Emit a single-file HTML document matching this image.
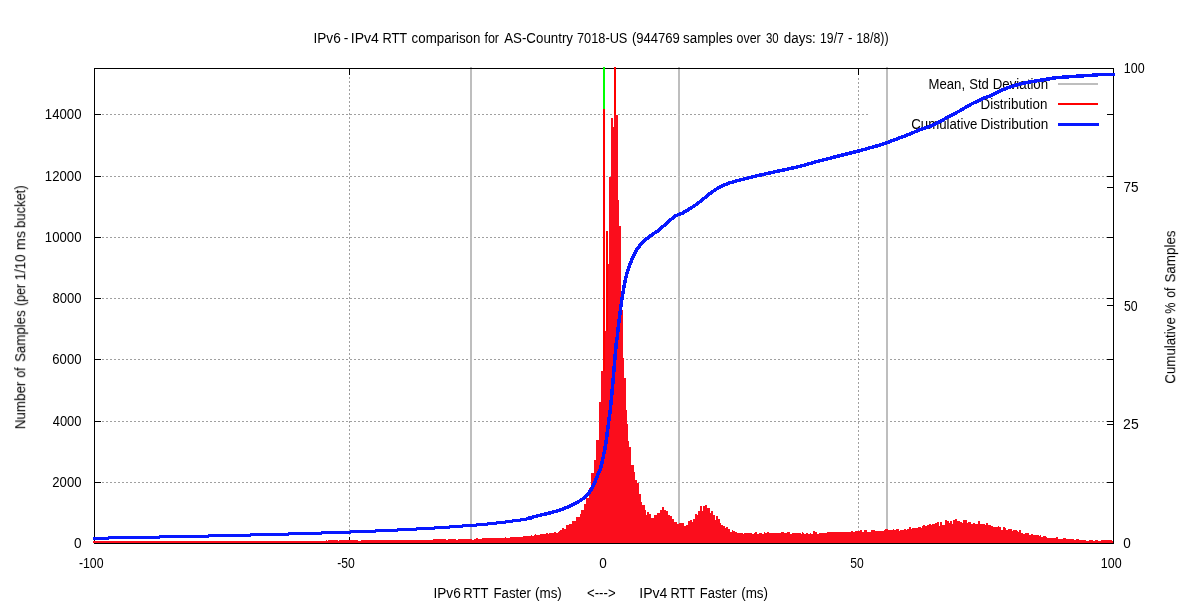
<!DOCTYPE html>
<html lang="en"><head><meta charset="utf-8"><title>IPv6 - IPv4 RTT comparison</title>
<style>html,body{margin:0;padding:0;background:#fff;overflow:hidden}svg{display:block}text{font-family:"Liberation Sans",sans-serif;font-size:15.2px;fill:#000}</style></head>
<body>
<svg width="1191" height="611" viewBox="0 0 1191 611">
<rect x="0" y="0" width="1191" height="611" fill="#fff"/>
<defs><filter id="gs" filterUnits="userSpaceOnUse" x="0" y="0" width="1191" height="611" color-interpolation-filters="sRGB"><feOffset dx="0" dy="0"/></filter></defs>
<g shape-rendering="crispEdges" stroke="#a0a0a0" stroke-width="1" stroke-dasharray="2 2" fill="none">
<line x1="102" y1="482.5" x2="1108" y2="482.5"/>
<line x1="102" y1="421.5" x2="1108" y2="421.5"/>
<line x1="102" y1="359.5" x2="1108" y2="359.5"/>
<line x1="102" y1="298.5" x2="1108" y2="298.5"/>
<line x1="102" y1="237.5" x2="1108" y2="237.5"/>
<line x1="102" y1="176.5" x2="1108" y2="176.5"/>
<line x1="102" y1="114.5" x2="868" y2="114.5"/>
<line x1="349.5" y1="77" x2="349.5" y2="537"/>
<line x1="603.5" y1="77" x2="603.5" y2="537"/>
<line x1="858.5" y1="78" x2="858.5" y2="537"/>
</g>
<g shape-rendering="crispEdges" fill="#bebebe"><rect x="470" y="67" width="2" height="476"/><rect x="678" y="67" width="2" height="476"/><rect x="886" y="67" width="2" height="476"/></g>

<g shape-rendering="crispEdges" stroke="#000" stroke-width="1" fill="none">
<rect x="94.5" y="68.5" width="1019" height="475"/>
<line x1="94" y1="482.5" x2="101" y2="482.5"/><line x1="1107" y1="482.5" x2="1114" y2="482.5"/>
<line x1="94" y1="421.5" x2="101" y2="421.5"/><line x1="1107" y1="421.5" x2="1114" y2="421.5"/>
<line x1="94" y1="359.5" x2="101" y2="359.5"/><line x1="1107" y1="359.5" x2="1114" y2="359.5"/>
<line x1="94" y1="298.5" x2="101" y2="298.5"/><line x1="1107" y1="298.5" x2="1114" y2="298.5"/>
<line x1="94" y1="237.5" x2="101" y2="237.5"/><line x1="1107" y1="237.5" x2="1114" y2="237.5"/>
<line x1="94" y1="176.5" x2="101" y2="176.5"/><line x1="1107" y1="176.5" x2="1114" y2="176.5"/>
<line x1="94" y1="114.5" x2="101" y2="114.5"/><line x1="1107" y1="114.5" x2="1114" y2="114.5"/>
<line x1="1107" y1="424.5" x2="1114" y2="424.5"/>
<line x1="1107" y1="305.5" x2="1114" y2="305.5"/>
<line x1="1107" y1="187.5" x2="1114" y2="187.5"/>
<line x1="349.5" y1="68" x2="349.5" y2="75"/><line x1="349.5" y1="537" x2="349.5" y2="544"/>
<line x1="603.5" y1="68" x2="603.5" y2="75"/><line x1="603.5" y1="537" x2="603.5" y2="544"/>
<line x1="858.5" y1="68" x2="858.5" y2="75"/><line x1="858.5" y1="537" x2="858.5" y2="544"/>
</g>
<path shape-rendering="crispEdges" fill="#fb0d1c" stroke="none" d="M93,543V541H326V540H327V541H328V540H338V541H339V540H358V541H361V540H433V539H446V540H448V539H456V540H458V539H472V540H474V539H476V538H478V539H482V538H505V537H506V538H510V537H523V536H531V535H532V536H534V535H535V534H536V535H540V534H546V533H548V534H549V533H554V532H556V533H558V532H559V531H560V530H562V528H564V529H566V525H569V524H572V521H576V517H580V514H581V510H584V504H586V498H589V488H591V473H594V460H596V440H599V402H601V371H603V67H605V331H606V231H608V264H609V177H611V118H613V127H614V67H616V115H618V200H619V226H621V310H623V358H624V378H626V410H627V424H628V441H629V447H631V465H634V472H635V480H637V483H639V494H641V502H642V505H645V510H646V515H647V512H649V514H651V518H654V515H657V513H660V510H662V507H664V510H666V511H668V515H670V516H672V519H674V522H677V524H679V523H684V526H686V525H688V521H690V520H692V522H693V519H695V514H697V515H698V511H700V506H702V511H703V506H705V505H707V508H710V513H711V511H713V515H715V520H716V516H718V519H720V523H721V525H723V526H725V528H726V527H728V529H730V532H732V530H733V531H735V532H737V533H743V534H744V533H752V534H754V533H755V532H757V534H759V533H762V534H764V532H765V533H767V532H769V533H781V532H784V533H787V532H790V534H792V533H801V534H802V532H803V533H804V534H806V533H808V534H810V533H811V534H813V531H815V532H817V534H819V533H827V532H851V531H853V532H855V531H860V530H862V532H864V530H867V532H871V530H875V531H884V530H885V529H888V530H893V529H894V530H896V529H899V531H900V530H904V529H906V530H907V529H909V527H911V529H912V528H918V527H921V528H922V526H923V525H925V526H927V525H929V524H931V525H932V524H935V523H937V522H939V526H940V522H942V525H945V520H947V521H949V523H950V521H952V524H953V520H955V519H957V521H960V522H962V523H963V520H967V523H968V522H971V524H973V523H975V524H978V521H980V524H985V525H986V523H988V525H991V526H993V527H998V526H999V527H1001V530H1003V527H1005V528H1006V530H1008V529H1012V531H1013V530H1017V531H1018V532H1019V530H1021V533H1023V534H1025V533H1029V535H1031V534H1033V535H1039V536H1040V535H1041V537H1043V536H1046V537H1047V538H1056V537H1058V539H1063V538H1066V539H1074V540H1076V539H1079V540H1086V541H1089V540H1093V541H1095V540H1098V541H1101V540H1112V541H1113V543Z"/>
<rect shape-rendering="crispEdges" x="603" y="67" width="2" height="42" fill="#00ff00"/>
<g shape-rendering="crispEdges" fill="#ff0000"><rect x="614" y="67" width="2" height="48"/><rect x="603" y="109" width="2" height="262"/><rect x="606" y="231" width="2" height="100"/></g>

<g filter="url(#gs)">
<text y="89"><tspan x="928.55" textLength="36.53" lengthAdjust="spacingAndGlyphs">Mean,</tspan> <tspan x="969.31" textLength="19.58" lengthAdjust="spacingAndGlyphs">Std</tspan> <tspan x="992.74" textLength="55.41" lengthAdjust="spacingAndGlyphs">Deviation</tspan></text>
<text y="109"><tspan x="980.53" textLength="66.87" lengthAdjust="spacingAndGlyphs">Distribution</tspan></text>
<text y="129"><tspan x="911.24" textLength="66.12" lengthAdjust="spacingAndGlyphs">Cumulative</tspan> <tspan x="980.52" textLength="67.69" lengthAdjust="spacingAndGlyphs">Distribution</tspan></text>
</g>
<g shape-rendering="crispEdges" fill="#0818ff"><rect x="93" y="537" width="16" height="3"/><rect x="108" y="536" width="52" height="3"/><rect x="159" y="535" width="50" height="3"/><rect x="208" y="534" width="43" height="3"/><rect x="250" y="533" width="39" height="3"/><rect x="288" y="532" width="34" height="3"/><rect x="321" y="531" width="30" height="3"/><rect x="350" y="530" width="26" height="3"/><rect x="375" y="529" width="23" height="3"/><rect x="397" y="528" width="20" height="3"/><rect x="416" y="527" width="19" height="3"/><rect x="434" y="526" width="16" height="3"/><rect x="449" y="525" width="14" height="3"/><rect x="462" y="524" width="15" height="3"/><rect x="476" y="523" width="12" height="3"/><rect x="487" y="522" width="10" height="3"/><rect x="496" y="521" width="10" height="3"/><rect x="505" y="520" width="8" height="3"/><rect x="512" y="519" width="9" height="3"/><rect x="520" y="518" width="7" height="3"/><rect x="526" y="517" width="6" height="3"/></g>
<polyline shape-rendering="crispEdges" fill="none" stroke="#0818ff" stroke-width="3.5" stroke-linejoin="round" points="528.0,518.3 529.8,517.8 539.6,515.4 549.5,513.0 559.3,510.3 569.1,506.6 578.9,501.4 583.9,498.0 588.8,493.1 592.7,487.0 595.6,480.3 598.6,473.0 600.5,468.9 602.8,459.1 604.8,449.3 606.4,439.5 607.65,429.6 608.9,419.8 610.3,410.0 611.5,397.3 612.6,385.8 613.6,374.4 614.5,362.9 615.5,351.5 616.5,340.0 617.1,338.7 618.26,327.32 619.67,315.93 621.12,304.65 622.79,293.28 623.83,287.67 624.82,282.05 626.12,276.35 627.58,270.77 630.08,263.77 633.4,256.0 637.3,248.8 641.9,242.9 647.2,238.3 652.4,234.4 657.6,231.1 662.9,226.5 668.1,221.9 673.3,217.5 676.0,215.6 682.5,213.1 689.1,209.1 695.6,205.0 702.2,200.0 708.7,194.4 715.3,189.7 721.8,185.9 728.4,183.3 736.0,181.0 746.0,178.5 759.1,175.3 772.2,172.4 785.3,169.6 800.5,166.2 816.7,161.6 842.9,154.9 858.6,151.0 882.2,144.4 893.6,140.1 906.7,135.3 919.8,129.8 932.9,125.2 946.0,118.2 959.1,111.2 972.2,103.6 985.3,97.5 990.5,95.7 1001.4,90.3 1012.3,86.2 1023.2,83.2 1034.2,81.2 1045.1,79.5 1056.0,77.7 1066.9,76.9 1077.8,76.1 1088.7,75.5 1096.0,75.0 1100.0,74.5 1115.1,74.5"/>


<g shape-rendering="crispEdges" fill="none">
<line x1="1058" y1="84" x2="1098" y2="84" stroke="#bebebe" stroke-width="2"/>
<line x1="1058" y1="104" x2="1098" y2="104" stroke="#ff0000" stroke-width="2"/>
<line x1="1058" y1="124.5" x2="1099" y2="124.5" stroke="#0818ff" stroke-width="3"/>
</g>
<g filter="url(#gs)">
<text y="43"><tspan x="313.47" textLength="27.29" lengthAdjust="spacingAndGlyphs">IPv6</tspan> <tspan x="343.78" textLength="4.62" lengthAdjust="spacingAndGlyphs">-</tspan> <tspan x="350.73" textLength="28.13" lengthAdjust="spacingAndGlyphs">IPv4</tspan> <tspan x="382.38" textLength="24.48" lengthAdjust="spacingAndGlyphs">RTT</tspan> <tspan x="411.57" textLength="68.89" lengthAdjust="spacingAndGlyphs">comparison</tspan> <tspan x="484.41" textLength="14.64" lengthAdjust="spacingAndGlyphs">for</tspan> <tspan x="504.20" textLength="68.78" lengthAdjust="spacingAndGlyphs">AS-Country</tspan> <tspan x="576.96" textLength="50.44" lengthAdjust="spacingAndGlyphs">7018-US</tspan> <tspan x="631.92" textLength="47.97" lengthAdjust="spacingAndGlyphs">(944769</tspan> <tspan x="683.07" textLength="49.68" lengthAdjust="spacingAndGlyphs">samples</tspan> <tspan x="736.50" textLength="24.19" lengthAdjust="spacingAndGlyphs">over</tspan> <tspan x="765.94" textLength="12.68" lengthAdjust="spacingAndGlyphs">30</tspan> <tspan x="783.87" textLength="31.94" lengthAdjust="spacingAndGlyphs">days:</tspan> <tspan x="820.09" textLength="23.74" lengthAdjust="spacingAndGlyphs">19/7</tspan> <tspan x="848.09" textLength="4.49" lengthAdjust="spacingAndGlyphs">-</tspan> <tspan x="856.17" textLength="32.40" lengthAdjust="spacingAndGlyphs">18/8))</tspan></text>
<text y="598"><tspan x="433.47" textLength="27.29" lengthAdjust="spacingAndGlyphs">IPv6</tspan> <tspan x="463.37" textLength="24.80" lengthAdjust="spacingAndGlyphs">RTT</tspan> <tspan x="493.54" textLength="37.44" lengthAdjust="spacingAndGlyphs">Faster</tspan> <tspan x="534.99" textLength="26.87" lengthAdjust="spacingAndGlyphs">(ms)</tspan> <tspan x="587.04" textLength="28.58" lengthAdjust="spacingAndGlyphs">&lt;---&gt;</tspan> <tspan x="639.23" textLength="28.13" lengthAdjust="spacingAndGlyphs">IPv4</tspan> <tspan x="670.48" textLength="24.48" lengthAdjust="spacingAndGlyphs">RTT</tspan> <tspan x="699.86" textLength="36.82" lengthAdjust="spacingAndGlyphs">Faster</tspan> <tspan x="741.19" textLength="26.87" lengthAdjust="spacingAndGlyphs">(ms)</tspan></text>
<text transform="translate(25.2,428.2) rotate(-90)" y="0"><tspan x="-1.07" textLength="47.63" lengthAdjust="spacingAndGlyphs">Number</tspan> <tspan x="50.51" textLength="10.28" lengthAdjust="spacingAndGlyphs">of</tspan> <tspan x="66.30" textLength="51.47" lengthAdjust="spacingAndGlyphs">Samples</tspan> <tspan x="122.15" textLength="22.11" lengthAdjust="spacingAndGlyphs">(per</tspan> <tspan x="147.69" textLength="26.09" lengthAdjust="spacingAndGlyphs">1/10</tspan> <tspan x="178.07" textLength="19.11" lengthAdjust="spacingAndGlyphs">ms</tspan> <tspan x="200.36" textLength="42.37" lengthAdjust="spacingAndGlyphs">bucket)</tspan></text>
<text transform="translate(1175.2,383) rotate(-90)" y="0"><tspan x="-0.66" textLength="66.42" lengthAdjust="spacingAndGlyphs">Cumulative</tspan> <tspan x="69.26" textLength="11.17" lengthAdjust="spacingAndGlyphs">%</tspan> <tspan x="85.31" textLength="10.18" lengthAdjust="spacingAndGlyphs">of</tspan> <tspan x="100.40" textLength="52.18" lengthAdjust="spacingAndGlyphs">Samples</tspan></text>
<text y="548"><tspan x="73.90" textLength="7.59" lengthAdjust="spacingAndGlyphs">0</tspan></text>
<text y="487"><tspan x="52.35" textLength="29.11" lengthAdjust="spacingAndGlyphs">2000</tspan></text>
<text y="426"><tspan x="52.74" textLength="28.71" lengthAdjust="spacingAndGlyphs">4000</tspan></text>
<text y="364"><tspan x="52.35" textLength="29.11" lengthAdjust="spacingAndGlyphs">6000</tspan></text>
<text y="303"><tspan x="52.48" textLength="28.97" lengthAdjust="spacingAndGlyphs">8000</tspan></text>
<text y="242"><tspan x="44.86" textLength="36.61" lengthAdjust="spacingAndGlyphs">10000</tspan></text>
<text y="181"><tspan x="44.86" textLength="36.61" lengthAdjust="spacingAndGlyphs">12000</tspan></text>
<text y="119"><tspan x="44.86" textLength="36.61" lengthAdjust="spacingAndGlyphs">14000</tspan></text>
<text y="548"><tspan x="1123.26" textLength="7.53" lengthAdjust="spacingAndGlyphs">0</tspan></text>
<text y="429"><tspan x="1123.10" textLength="15.59" lengthAdjust="spacingAndGlyphs">25</tspan></text>
<text y="310.5"><tspan x="1124.01" textLength="13.65" lengthAdjust="spacingAndGlyphs">50</tspan></text>
<text y="191.5"><tspan x="1123.52" textLength="15.05" lengthAdjust="spacingAndGlyphs">75</tspan></text>
<text y="73"><tspan x="1123.86" textLength="20.82" lengthAdjust="spacingAndGlyphs">100</tspan></text>
<text y="568"><tspan x="78.95" textLength="24.60" lengthAdjust="spacingAndGlyphs">-100</tspan></text>
<text y="568"><tspan x="337.15" textLength="17.58" lengthAdjust="spacingAndGlyphs">-50</tspan></text>
<text y="568"><tspan x="599.26" textLength="7.53" lengthAdjust="spacingAndGlyphs">0</tspan></text>
<text y="568"><tspan x="850.32" textLength="13.43" lengthAdjust="spacingAndGlyphs">50</tspan></text>
<text y="568"><tspan x="1100.86" textLength="20.82" lengthAdjust="spacingAndGlyphs">100</tspan></text>
</g>
</svg>
</body></html>
